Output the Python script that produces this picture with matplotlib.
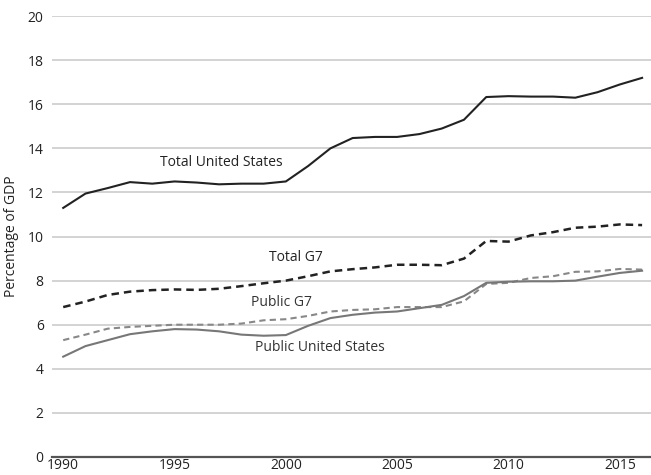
import matplotlib
matplotlib.use("Agg")
import matplotlib.pyplot as plt

years = list(range(1990, 2017))
total_us = [11.3, 11.95, 12.2, 12.47, 12.4, 12.5, 12.45, 12.37, 12.4, 12.4, 12.5, 13.2, 14.0, 14.47,
            14.52, 14.52, 14.65, 14.9, 15.3, 16.33, 16.37, 16.35, 16.35, 16.3, 16.55, 16.9, 17.2]
total_g7 = [6.8, 7.05, 7.35, 7.5, 7.57, 7.6, 7.58, 7.63, 7.75, 7.88, 8.0, 8.2, 8.42, 8.52,
            8.6, 8.72, 8.72, 8.7, 9.0, 9.8, 9.77, 10.05, 10.2, 10.4, 10.45, 10.55, 10.52]
public_g7 = [5.3, 5.55, 5.82, 5.9, 5.95, 6.0, 6.0, 6.0, 6.05, 6.2, 6.25, 6.4, 6.6, 6.67,
             6.7, 6.8, 6.8, 6.8, 7.06, 7.85, 7.9, 8.12, 8.2, 8.4, 8.42, 8.53, 8.5]
public_us = [4.55, 5.03, 5.3, 5.57, 5.7, 5.8, 5.78, 5.7, 5.55, 5.5, 5.53, 5.95, 6.3, 6.45,
             6.55, 6.6, 6.75, 6.9, 7.3, 7.9, 7.95, 7.97, 7.97, 8.0, 8.18, 8.35, 8.45]
yticks = [0, 2, 4, 6, 8, 10, 12, 14, 16, 18, 20]
xticks = [1990, 1995, 2000, 2005, 2010, 2015]

plt.rcParams['font.family'] = ['Open Sans', 'DejaVu Sans']

fig = plt.figure(figsize=(6.51, 4.75), dpi=100)
ax = fig.add_axes([0.08, 0.038, 0.92, 0.928])

ax.plot(years, total_us, color='#222222', lw=1.5)
ax.plot(years, total_g7, color='#222222', lw=1.8, ls=(0, (3, 2)))
ax.plot(years, public_g7, color='#888888', lw=1.5, ls=(0, (3, 2)))
ax.plot(years, public_us, color='#777777', lw=1.5)

ax.text(1997.1, 13.35, 'Total United States', fontsize=10, color='#222222', ha='center', va='center')
ax.text(2000.45, 9.05, 'Total G7', fontsize=10, color='#222222', ha='center', va='center')
ax.text(1999.8, 7.0, 'Public G7', fontsize=10, color='#333333', ha='center', va='center')
ax.text(2001.55, 4.95, 'Public United States', fontsize=10, color='#333333', ha='center', va='center')

ax.set_xlim(1989.5, 2016.4)
ax.set_ylim(0, 20)
ax.set_yticks(yticks)
ax.set_xticks(xticks)
ax.yaxis.grid(True, color='#cccccc', lw=1.2)
ax.set_axisbelow(True)
for s in ['top', 'right', 'left']:
    ax.spines[s].set_visible(False)
ax.spines['bottom'].set_color('#555555')
ax.spines['bottom'].set_linewidth(1.6)
ax.tick_params(axis='both', length=0, labelsize=10, colors='#222222')
ax.tick_params(axis='x', pad=1)
ax.tick_params(axis='y', pad=6)
ax.set_ylabel('Percentage of GDP', fontsize=10, color='#222222', labelpad=6)

fig.savefig('out.png', dpi=100)
